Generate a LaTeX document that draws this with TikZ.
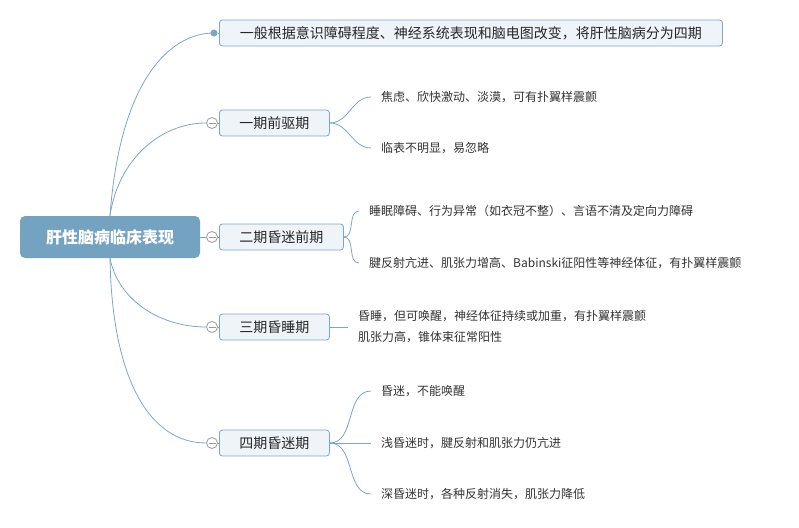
\documentclass[tikz,border=0pt]{standalone}
\usepackage{fontspec}
\setmainfont{Noto Sans CJK SC}
\usetikzlibrary{positioning}

\definecolor{linkblue}{HTML}{7BA7C7}
\definecolor{rootblue}{HTML}{74A2C1}
\definecolor{boxfill}{HTML}{EFF4F8}
\definecolor{knobgray}{HTML}{9A9A9A}

\tikzset{
  root/.style={rectangle, rounded corners=5pt, fill=rootblue, text=white,
    font=\fontsize{16}{18}\selectfont\bfseries, minimum width=180pt, minimum height=42pt},
  stagebox/.style={rectangle, rounded corners=3pt, draw=linkblue, fill=boxfill, line width=0.8pt,
    font=\fontsize{14}{16}\selectfont, text=black!85, inner xsep=20pt, minimum height=26pt, anchor=west},
  leaf/.style={font=\fontsize{12}{21}\selectfont, text=black!80, inner xsep=10pt, inner ysep=1pt,
    anchor=west, align=left},
  link/.style={draw=linkblue, line width=0.8pt},
  knob/.style={circle, draw=knobgray, fill=white, line width=0.8pt, minimum size=11pt, inner sep=0pt,
    path picture={\draw[knobgray, line width=0.8pt] ([xshift=2pt]path picture bounding box.west) -- ([xshift=-2pt]path picture bounding box.east);}},
}

\begin{document}
\begin{tikzpicture}[x=1pt, y=-1pt]
            \useasboundingbox (0,0) rectangle (799,527);

            % root and stages
            \node[root] (liver) at (110,237) {肝性脑病临床表现};

            \node[stagebox, minimum width=503pt] (s0) at (219,33) {一般根据意识障碍程度、神经系统表现和脑电图改变，将肝性脑病分为四期};
            \node[stagebox] (s1) at (219,123) {一期前驱期};
            \node[stagebox] (s2) at (219,237) {二期昏迷前期};
            \node[stagebox] (s3) at (219,327) {三期昏睡期};
            \node[stagebox] (s4) at (219,443) {四期昏迷期};

            \node[circle, fill=linkblue, inner sep=0pt, minimum size=7pt] (d0) at (214,33) {};
            \node[knob] (k1) at (212,123) {};
            \node[knob] (k2) at (212,237) {};
            \node[knob] (k3) at (212,327) {};
            \node[knob] (k4) at (212,443) {};

            % leaves
            \node[leaf] (l11) at (371,97) {焦虑、欣快激动、淡漠，可有扑翼样震颤};
            \node[leaf] (l12) at (371,148) {临表不明显，易忽略};
            \node[leaf] (l21) at (359,211) {睡眠障碍、行为异常（如衣冠不整）、言语不清及定向力障碍};
            \node[leaf] (l22) at (359,263) {腱反射亢进、肌张力增高、Babinski征阳性等神经体征，有扑翼样震颤};
            \node[leaf] (l31) at (348,327) {昏睡，但可唤醒，神经体征持续或加重，有扑翼样震颤\\肌张力高，锥体束征常阳性};
            \node[leaf] (l41) at (371,391) {昏迷，不能唤醒};
            \node[leaf] (l42) at (371,443) {浅昏迷时，腱反射和肌张力仍亢进};
            \node[leaf] (l43) at (371,494) {深昏迷时，各种反射消失，肌张力降低};

            % root links
            \draw[link] (liver.north) .. controls (120,80) and (170,33) .. (d0.center);
            \draw[link] (liver.north) .. controls (118,160) and (160,123) .. (k1.west);
            \draw[link] (liver.east) -- (k2.west);
            \draw[link] (liver.south) .. controls (118,300) and (160,327) .. (k3.west);
            \draw[link] (liver.south) .. controls (112,380) and (150,443) .. (k4.west);

            \draw[link] (d0) -- (s0);
            \foreach \i in {1,...,4}
                \draw[link] (k\i) -- (s\i);

            % stage links
            \draw[link] (s1.east) to[out=0, in=180] (l11.west);
            \draw[link] (s1.east) to[out=0, in=180] (l12.west);
            \draw[link] (s2.east) to[out=0, in=180] (l21.west);
            \draw[link] (s2.east) to[out=0, in=180] (l22.west);
            \draw[link] (s3.east) -- (l31.west);
            \draw[link] (s4.east) to[out=0, in=180] (l41.west);
            \draw[link] (s4.east) -- (l42.west);
            \draw[link] (s4.east) to[out=0, in=180] (l43.west);

        \end{tikzpicture}
\end{document}
